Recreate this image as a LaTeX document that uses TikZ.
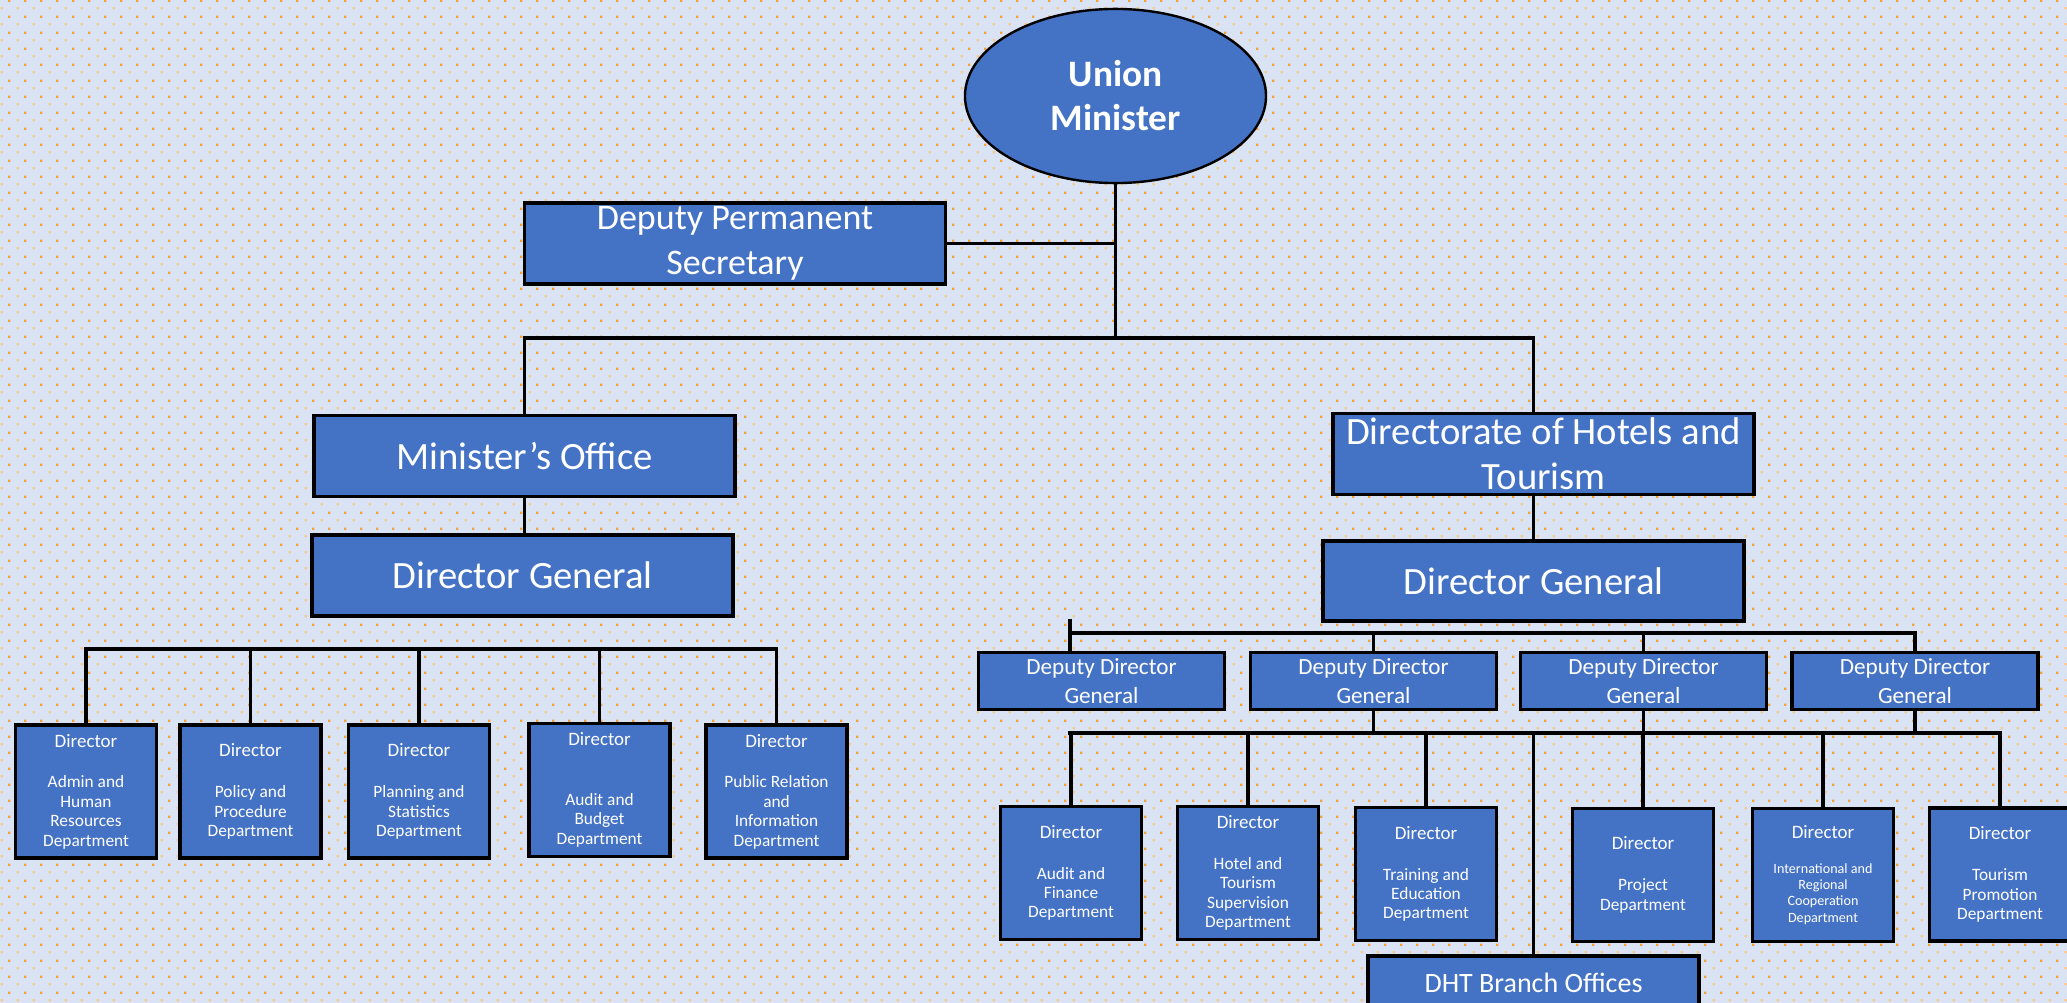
\documentclass[tikz,border=0pt]{standalone}
\usepackage{fontspec}
\setmainfont{Carlito}
\usetikzlibrary{shapes.geometric,patterns}

\definecolor{boxblue}{HTML}{4472C4}
\definecolor{paper}{HTML}{DAE3F3}
\definecolor{speck}{HTML}{F4A23A}

% Two offset grids of small square dots, 6pt apart
\pgfdeclarepatternformonly{paperdotsa}{\pgfqpoint{0pt}{0pt}}{\pgfqpoint{6pt}{6pt}}{\pgfqpoint{6pt}{6pt}}{
    \pgfpathrectangle{\pgfqpoint{0.6pt}{0.6pt}}{\pgfqpoint{0.9pt}{0.9pt}}
    \pgfusepath{fill}
}
\pgfdeclarepatternformonly{paperdotsb}{\pgfqpoint{0pt}{0pt}}{\pgfqpoint{6pt}{6pt}}{\pgfqpoint{6pt}{6pt}}{
    \pgfpathrectangle{\pgfqpoint{3.6pt}{3.6pt}}{\pgfqpoint{0.9pt}{0.9pt}}
    \pgfusepath{fill}
}

\tikzset{
    unit/.style={draw=black, line width=1.3pt, fill=boxblue, text=white, align=center, inner sep=0pt},
    bigbox/.style={unit, minimum width=157.9pt, minimum height=30.5pt, font=\fontsize{14.5}{17}\selectfont},
    ddgbox/.style={unit, minimum width=92.3pt, minimum height=21.4pt, font=\fontsize{8.7}{10.9}\selectfont},
    dirbox/.style={unit, minimum width=52.8pt, minimum height=49.9pt, font=\fontsize{6.5}{7.3}\selectfont},
    conn/.style={line width=1.4pt, line cap=rect}
}
\newcommand{\dirhead}{{\fontsize{7.1}{8}\selectfont Director}}

\begin{document}
\begin{tikzpicture}[x=0.375pt, y=-0.375pt]
    % Dotted paper
    \useasboundingbox (0,0) rectangle (2067,1003);
    \clip (0,0) rectangle (2067,1003);
    \fill[paper] (0,0) rectangle (2067,1003);
    \fill[pattern=paperdotsa, pattern color=speck!60] (0,0) rectangle (2067,1003);
    \fill[pattern=paperdotsb, pattern color=speck] (0,0) rectangle (2067,1003);

    % Bus coordinates
    \coordinate (topbus) at (1115,338);
    \coordinate (leftbus) at (86,649);
    \coordinate (ddgbus) at (1070,633);
    \coordinate (dirbus) at (1070,733);
    \coordinate (tick) at (1070,621);

    % Top level
    \node[unit, ellipse, line width=0.9pt, minimum width=112.9pt, minimum height=65.3pt,
          font=\bfseries\fontsize{14}{16.5}\selectfont] (um) at (1115.5,96) {Union\\Minister};
    \node[bigbox, font=\fontsize{13.5}{17}\selectfont] (dps) at (735,243.5) {Deputy Permanent\\Secretary};

    % Left branch
    \node[bigbox] (mo) at (524.5,456) {Minister’s Office};
    \node[bigbox] (dgl) at (522.5,575.5) {Director General};

    \node[dirbox] (ld1) at (86,791.5) {\dirhead\\[8pt]Admin and\\Human\\Resources\\Department};
    \node[dirbox] (ld2) at (250.5,791.5) {\dirhead\\[8pt]Policy and\\Procedure\\Department};
    \node[dirbox] (ld3) at (419,791.5) {\dirhead\\[8pt]Planning and\\Statistics\\Department};
    \node[dirbox] (ld4) at (599.5,790) {\dirhead\\[15pt]Audit and\\Budget\\Department};
    \node[dirbox] (ld5) at (776.5,791.5) {\dirhead\\[8pt]Public Relation\\and\\Information\\Department};

    % Right branch
    \node[bigbox] (dht) at (1543.5,454) {Directorate of Hotels and\\Tourism};
    \node[bigbox, minimum height=30pt] (dgr) at (1533.5,581) {Director General};

    \node[ddgbox] (ddg1) at (1101.5,681) {Deputy Director\\General};
    \node[ddgbox] (ddg2) at (1373.5,681) {Deputy Director\\General};
    \node[ddgbox] (ddg3) at (1643.5,681) {Deputy Director\\General};
    \node[ddgbox] (ddg4) at (1915,681) {Deputy Director\\General};

    \node[dirbox] (rd1) at (1071,873) {\dirhead\\[8pt]Audit and\\Finance\\Department};
    \node[dirbox] (rd2) at (1248,873) {\dirhead\\[8pt]Hotel and\\Tourism\\Supervision\\Department};
    \node[dirbox] (rd3) at (1426,874) {\dirhead\\[8pt]Training and\\Education\\Department};
    \node[dirbox] (rd4) at (1643,875) {\dirhead\\[8pt]Project\\Department};
    \node[dirbox, font=\fontsize{5.3}{6.1}\selectfont] (rd5) at (1823,875) {\dirhead\\[7pt]International and\\Regional\\Cooperation\\Department};
    \node[dirbox] (rd6) at (2000,874.5) {\dirhead\\[8pt]Tourism\\Promotion\\Department};

    \node[unit, minimum width=124.1pt, minimum height=20.3pt, font=\fontsize{10.5}{12}\selectfont] (branch) at (1533.5,983) {DHT Branch Offices};

    % Connectors, top
    \draw[conn] (um.south) -- (um.south |- topbus);
    \draw[conn] (dps.east) -- (dps.east -| um.south);
    \draw[conn] (mo.north) |- (topbus) -| (dgr.north |- dht.north);
    \draw[conn] (mo.south) -- (mo.south |- dgl.north);
    \draw[conn] (dht.south -| dgr.north) -- (dgr.north);

    % Connectors, left directors
    \draw[conn] (ld1.north |- leftbus) -- (ld5.north |- leftbus);
    \foreach \n in {ld1,ld2,ld3,ld4,ld5}
        \draw[conn] (\n.north) -- (\n.north |- leftbus);

    % Connectors, deputies
    \draw[conn] (tick) -- (tick |- ddg1.north);
    \draw[conn] (ddgbus) -- (ddg4.north |- ddgbus);
    \foreach \n in {ddg2,ddg3,ddg4}
        \draw[conn] (\n.north) -- (\n.north |- ddgbus);

    % Connectors, right directors
    \draw[conn] (dirbus) -- (rd6.north |- dirbus);
    \foreach \n in {ddg2,ddg3,ddg4}
        \draw[conn] (\n.south) -- (\n.south |- dirbus);
    \foreach \n in {rd1,rd2,rd3,rd4,rd5,rd6,branch}
        \draw[conn] (\n.north) -- (\n.north |- dirbus);
\end{tikzpicture}
\end{document}
